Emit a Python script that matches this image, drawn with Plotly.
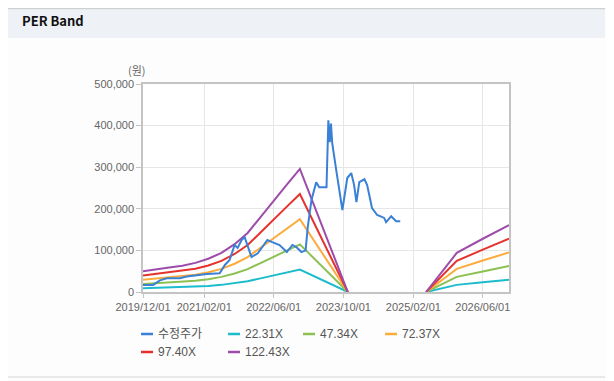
import plotly.graph_objects as go

# ---------------- data ----------------
band_dates = ["2019-12-01", "2020-03-01", "2020-06-01", "2020-09-01", "2020-12-01",
              "2021-03-01", "2021-06-01", "2021-09-01", "2021-12-01", "2022-03-01",
              "2022-06-01", "2022-09-01", "2022-12-01", "2023-11-01", "2024-08-01",
              "2025-05-01", "2025-12-01", "2026-06-01", "2026-12-01"]

per_22 = [9100, 10000, 10750, 11500, 12760, 14570, 17130, 20950, 25880, 32800,
          40090, 47010, 53950, 0, None, 0, 17130, 23340, 29340]
per_47 = [19320, 21260, 22820, 24380, 27080, 30910, 36360, 44450, 54910, 69590,
          85070, 99750, 114470, 0, None, 0, 36360, 49520, 62250]
per_72 = [29530, 32490, 34880, 37270, 41400, 47260, 55580, 67950, 83950, 106380,
          130050, 152480, 174990, 0, None, 0, 55580, 75700, 95170]
per_97 = [39740, 43730, 46950, 50160, 55710, 63600, 74800, 91460, 112980, 143180,
          175030, 205220, 235510, 0, None, 0, 74800, 101880, 128080]
per_122 = [50000, 55000, 59000, 63000, 70000, 80000, 94000, 115000, 142000, 180000,
           220000, 258000, 296000, 0, None, 0, 94000, 128000, 161000]

price_dates = ["2019-12-01", "2020-02-10", "2020-03-28", "2020-05-15", "2020-08-15",
               "2020-10-01", "2020-12-12", "2021-02-20", "2021-05-20", "2021-06-25",
               "2021-07-28", "2021-09-01", "2021-09-22", "2021-10-20", "2021-11-10",
               "2021-12-01", "2021-12-28", "2022-02-10", "2022-03-28", "2022-04-18",
               "2022-05-22", "2022-07-12", "2022-09-01", "2022-10-10", "2022-11-06",
               "2022-12-12", "2023-01-10", "2023-01-25", "2023-02-20", "2023-03-25",
               "2023-04-15", "2023-06-05", "2023-06-18", "2023-06-28", "2023-07-06",
               "2023-07-15", "2023-08-12", "2023-09-03", "2023-09-24", "2023-10-28",
               "2023-11-25", "2023-12-15", "2023-12-31", "2024-01-20", "2024-02-25",
               "2024-03-15", "2024-04-18", "2024-05-24", "2024-07-12", "2024-07-25",
               "2024-08-30", "2024-10-03", "2024-11-01"]
price = [17000, 17000, 28000, 33000, 33000, 37000, 40000, 43000, 45000, 65000,
         77000, 113000, 106000, 125000, 132000, 113000, 84000, 93000, 113000, 125000,
         120000, 113000, 96000, 113000, 108000, 96000, 100000, 156000, 221000, 264000,
         252000, 252000, 413000, 360000, 405000, 358000, 293000, 245000, 197000, 274000,
         286000, 257000, 216000, 264000, 271000, 257000, 202000, 185000, 178000, 168000,
         182000, 170000, 170000]

series_names = ["수정주가", "22.31X", "47.34X", "72.37X", "97.40X", "122.43X"]
series_colors = ["#3a80d6", "#1cbccc", "#8cc152", "#fbac3c", "#e6322d", "#9e4caa"]

x_tickvals = ["2019-12-01", "2021-02-01", "2022-06-01", "2023-10-01", "2025-02-01", "2026-06-01"]
x_ticktext = ["2019/12/01", "2021/02/01", "2022/06/01", "2023/10/01", "2025/02/01", "2026/06/01"]

# ---------------- geometry ----------------
# page body has an 8px margin, so the figure starts at (8, 8) in the window
OFF = 8
W, H = 614 - OFF, 381 - OFF
# reference-window pixel positions of the plot area
RL, RR, RT, RB = 143, 509, 84, 292
L, R, T, B = RL - OFF, RR - OFF, RT - OFF, RB - OFF


def px(x):
    # reference window x -> paper x
    return (x - RL) / (RR - RL)


def py(y):
    # reference window y -> paper y
    return (RB - y) / (RB - RT)


fig = go.Figure()

bands = [per_22, per_47, per_72, per_97, per_122]
for name, color, vals in zip(series_names[1:], series_colors[1:], bands):
    fig.add_trace(go.Scatter(x=band_dates, y=vals, mode="lines", name=name,
                             line=dict(color=color, width=2), connectgaps=False,
                             showlegend=False))

fig.add_trace(go.Scatter(x=price_dates, y=price, mode="lines", name=series_names[0],
                         line=dict(color=series_colors[0], width=2), showlegend=False))

tick_font = dict(family="Arial, Liberation Sans, sans-serif", size=11, color="#666666")

fig.update_xaxes(type="date", range=["2019-12-01", "2026-12-01"],
                 tickvals=x_tickvals, ticktext=x_ticktext, tickangle=0,
                 showgrid=True, gridcolor="#e6e6e6", gridwidth=1,
                 showline=True, linecolor="#c4c4c4", linewidth=1.5, mirror=True,
                 ticks="outside", ticklen=4, tickcolor="#c4c4c4",
                 tickfont=tick_font, zeroline=False, fixedrange=True)
fig.update_yaxes(range=[0, 500000], dtick=100000, tickformat=",",
                 showgrid=True, gridcolor="#e6e6e6", gridwidth=1,
                 showline=True, linecolor="#c4c4c4", linewidth=1.5, mirror=True,
                 ticks="outside", ticklen=5, tickcolor="#c4c4c4",
                 tickfont=tick_font, zeroline=False, fixedrange=True)

shapes = []
annotations = []

# header band
shapes.append(dict(type="rect", xref="paper", yref="paper",
                   x0=px(OFF - 2), x1=px(605), y0=py(38), y1=py(OFF),
                   fillcolor="#eef2f7", line=dict(width=0), layer="below"))
shapes.append(dict(type="line", xref="paper", yref="paper",
                   x0=px(OFF - 2), x1=px(605), y0=py(OFF + 0.5), y1=py(OFF + 0.5),
                   line=dict(color="#cfcfcf", width=1.5)))
# bottom rule
shapes.append(dict(type="line", xref="paper", yref="paper",
                   x0=px(OFF - 2), x1=px(605), y0=py(377), y1=py(377),
                   line=dict(color="#d4d4d4", width=1)))

annotations.append(dict(text="<b>PER Band</b>", xref="paper", yref="paper",
                        x=px(20), y=py(21), xanchor="left", yanchor="middle",
                        showarrow=False,
                        font=dict(family="Noto Sans CJK KR, Noto Sans, sans-serif",
                                  size=13, color="#111111")))
annotations.append(dict(text="(원)", xref="paper", yref="paper",
                        x=px(137), y=py(70), xanchor="center", yanchor="middle",
                        showarrow=False,
                        font=dict(family="Noto Sans CJK KR, sans-serif", size=11,
                                  color="#666666")))

# manual legend
legend_pos = [(141, 334), (228, 334), (303, 334), (385, 334), (141, 352), (228, 352)]
for (lx, ly), name, color in zip(legend_pos, series_names, series_colors):
    shapes.append(dict(type="line", xref="paper", yref="paper",
                       x0=px(lx), x1=px(lx + 12), y0=py(ly), y1=py(ly),
                       line=dict(color=color, width=2.5)))
    annotations.append(dict(text=name, xref="paper", yref="paper",
                            x=px(lx + 15), y=py(ly), xanchor="left", yanchor="middle",
                            showarrow=False,
                            font=dict(family="Arial, Noto Sans CJK KR, sans-serif",
                                      size=12, color="#555555")))

fig.update_layout(width=W, height=H,
                  margin=dict(l=L, r=W - R, t=T, b=H - B, pad=0),
                  paper_bgcolor="#fdfdfd", plot_bgcolor="#ffffff",
                  showlegend=False, shapes=shapes, annotations=annotations,
                  hovermode="x")

fig.write_html("out.html")
